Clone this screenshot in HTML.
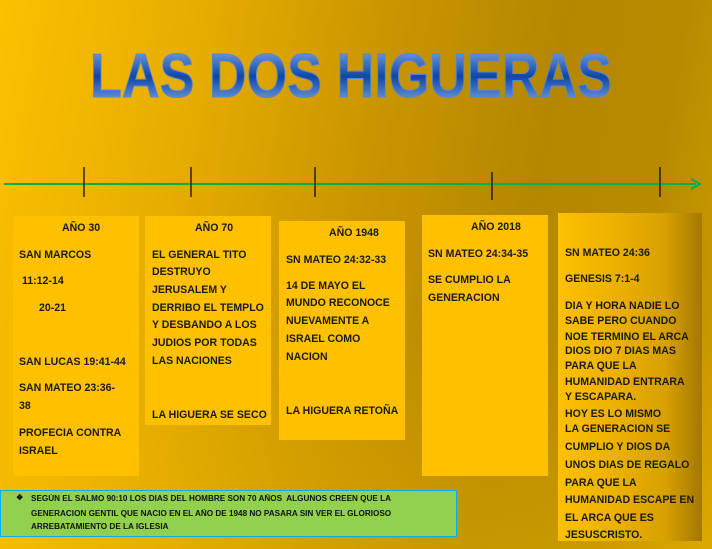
<!DOCTYPE html>
<html><head><meta charset="utf-8"><style>
*{margin:0;padding:0;box-sizing:border-box}
body{width:712px;height:549px;overflow:hidden;position:relative;font-family:"Liberation Sans",sans-serif;
background:linear-gradient(100deg,#fcc000 0%,#e6ad00 25%,#c89400 50%,#b58700 70%,#b88a00 85%,#cf9e00 100%)}
.bl{position:absolute;background:linear-gradient(180deg,rgba(255,200,0,0) 60%,rgba(255,200,0,0.25) 100%);left:0;top:0;width:712px;height:549px}
.box{position:absolute;background:#ffc000}
.t{position:absolute;font-size:11px;font-weight:bold;color:#1a1a1a;line-height:14px;white-space:nowrap;transform:scaleX(0.96);transform-origin:left center}
.g{position:absolute;font-size:8px;font-weight:bold;color:#111;line-height:10px;white-space:nowrap;transform:scaleX(1.02);transform-origin:left center}
</style></head><body>
<div class="bl"></div>
<svg width="712" height="549" style="position:absolute;left:0;top:0">
<defs><linearGradient id="tg" x1="0" y1="0" x2="0" y2="1">
<stop offset="0" stop-color="#8fb4ec"/><stop offset="0.5" stop-color="#0f47a8"/><stop offset="1" stop-color="#8fb4ec"/></linearGradient></defs>
<text x="90" y="97" font-family="Liberation Sans" font-weight="bold" font-size="62" fill="url(#tg)" stroke="#5b86cc" stroke-width="1" textLength="522" lengthAdjust="spacingAndGlyphs">LAS DOS HIGUERAS</text>
<line x1="4" y1="184" x2="696" y2="184" stroke="#00b050" stroke-width="2"/>
<polyline points="691,179 700,184 691,189" fill="none" stroke="#00b050" stroke-width="2"/>
<g stroke="#000" stroke-width="1.2">
<line x1="84" y1="167" x2="84" y2="197"/><line x1="191" y1="167" x2="191" y2="197"/>
<line x1="315" y1="167" x2="315" y2="197"/><line x1="492" y1="172" x2="492" y2="200"/>
<line x1="660" y1="167" x2="660" y2="197"/></g>
</svg>
<div class="box" style="left:13px;top:216px;width:126px;height:260px"></div>
<div class="box" style="left:145px;top:216px;width:126px;height:209px"></div>
<div class="box" style="left:279px;top:221px;width:126px;height:219px"></div>
<div class="box" style="left:422px;top:215px;width:126px;height:261px"></div>
<div class="box" style="left:558px;top:213px;width:144px;height:328px;background:linear-gradient(90deg,#ffc000 0%,#ecb000 40%,#d7a000 75%,#a47800 100%)"></div>
<div style="position:absolute;left:0;top:490px;width:457px;height:47px;background:#92d050;border:1px solid #00b0f0"></div>

<div class="t" style="left:62px;top:221px">AÑO 30</div>
<div class="t" style="left:19px;top:248px">SAN MARCOS</div>
<div class="t" style="left:22px;top:274px">11:12-14</div>
<div class="t" style="left:39px;top:301px">20-21</div>
<div class="t" style="left:19px;top:355px">SAN LUCAS 19:41-44</div>
<div class="t" style="left:19px;top:381px">SAN MATEO 23:36-</div>
<div class="t" style="left:19px;top:399px">38</div>
<div class="t" style="left:19px;top:426px">PROFECIA CONTRA</div>
<div class="t" style="left:19px;top:444px">ISRAEL</div>

<div class="t" style="left:195px;top:221px">AÑO 70</div>
<div class="t" style="left:152px;top:248px">EL GENERAL TITO</div>
<div class="t" style="left:152px;top:265px">DESTRUYO</div>
<div class="t" style="left:152px;top:283px">JERUSALEM Y</div>
<div class="t" style="left:152px;top:301px">DERRIBO EL TEMPLO</div>
<div class="t" style="left:152px;top:318px">Y DESBANDO A LOS</div>
<div class="t" style="left:152px;top:336px">JUDIOS POR TODAS</div>
<div class="t" style="left:152px;top:354px">LAS NACIONES</div>
<div class="t" style="left:152px;top:408px">LA HIGUERA SE SECO</div>

<div class="t" style="left:329px;top:226px">AÑO 1948</div>
<div class="t" style="left:286px;top:253px">SN MATEO 24:32-33</div>
<div class="t" style="left:286px;top:279px">14 DE MAYO EL</div>
<div class="t" style="left:286px;top:296px">MUNDO RECONOCE</div>
<div class="t" style="left:286px;top:314px">NUEVAMENTE A</div>
<div class="t" style="left:286px;top:332px">ISRAEL COMO</div>
<div class="t" style="left:286px;top:350px">NACION</div>
<div class="t" style="left:286px;top:404px">LA HIGUERA RETOÑA</div>

<div class="t" style="left:471px;top:220px">AÑO 2018</div>
<div class="t" style="left:428px;top:247px">SN MATEO 24:34-35</div>
<div class="t" style="left:428px;top:273px">SE CUMPLIO LA</div>
<div class="t" style="left:428px;top:291px">GENERACION</div>

<div class="t" style="left:565px;top:246px">SN MATEO 24:36</div>
<div class="t" style="left:565px;top:272px">GENESIS 7:1-4</div>
<div class="t" style="left:565px;top:299px">DIA Y HORA NADIE LO</div>
<div class="t" style="left:565px;top:314px">SABE PERO CUANDO</div>
<div class="t" style="left:565px;top:330px">NOE TERMINO EL ARCA</div>
<div class="t" style="left:565px;top:344px">DIOS DIO 7 DIAS MAS</div>
<div class="t" style="left:565px;top:359px">PARA QUE LA</div>
<div class="t" style="left:565px;top:375px">HUMANIDAD ENTRARA</div>
<div class="t" style="left:565px;top:390px">Y ESCAPARA.</div>
<div class="t" style="left:565px;top:407px">HOY ES LO MISMO</div>
<div class="t" style="left:565px;top:422px">LA GENERACION SE</div>
<div class="t" style="left:565px;top:440px">CUMPLIO Y DIOS DA</div>
<div class="t" style="left:565px;top:458px">UNOS DIAS DE REGALO</div>
<div class="t" style="left:565px;top:476px">PARA QUE LA</div>
<div class="t" style="left:565px;top:493px">HUMANIDAD ESCAPE EN</div>
<div class="t" style="left:565px;top:511px">EL ARCA QUE ES</div>
<div style="position:absolute;left:558px;top:528px;width:144px;height:13px;overflow:hidden"><div class="t" style="left:7px;top:0px">JESUSCRISTO.</div></div>

<div class="g" style="left:16px;top:493px">❖</div>
<div class="g" style="left:31px;top:494px">SEGÚN EL SALMO 90:10 LOS DIAS DEL HOMBRE SON 70 AÑOS&nbsp; ALGUNOS CREEN QUE LA</div>
<div class="g" style="left:31px;top:509px">GENERACION GENTIL QUE NACIO EN EL AÑO DE 1948 NO PASARA SIN VER EL GLORIOSO</div>
<div class="g" style="left:31px;top:522px">ARREBATAMIENTO DE LA IGLESIA</div>
</body></html>
